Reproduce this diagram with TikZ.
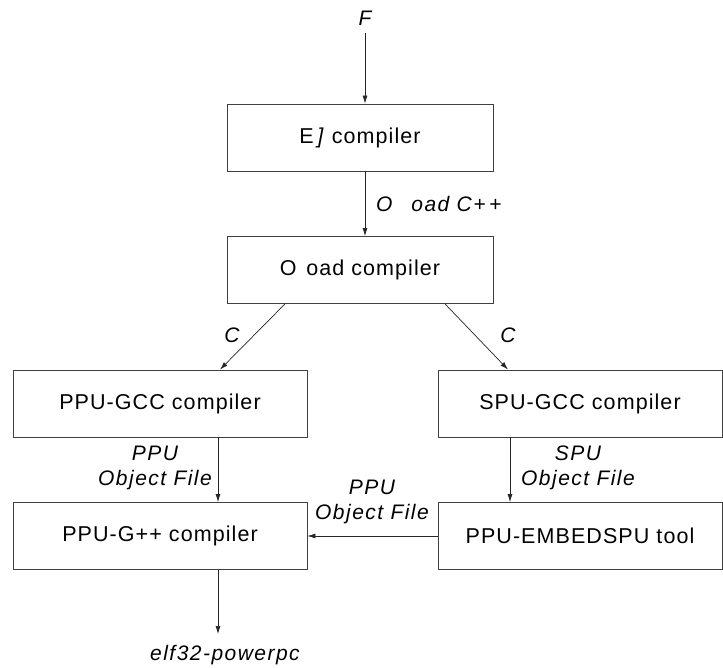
\documentclass[tikz,border=0pt]{standalone}
\usepackage{fontspec}
\setmainfont{Liberation Sans}[LetterSpace=5]
\usetikzlibrary{arrows.meta}

\begin{document}
\begin{tikzpicture}[x=1pt,y=-1pt,
  box/.style={draw=black!75,line width=0.8pt,minimum height=67pt,inner sep=0pt,
    font=\fontsize{21.5}{25}\selectfont},
  lbl/.style={font=\itshape\fontsize{21}{25}\selectfont\addfontfeatures{LetterSpace=7},
    inner sep=0pt,align=center},
  arr/.style={-{Latex[length=8pt,width=5pt]},line width=0.7pt,black!85}]
\useasboundingbox (0,0) rectangle (723,668);
% boxes
\node[box,minimum width=266pt] (ej) at (360,137.5) {E\,\textit{]} compiler};
\node[box,minimum width=266pt] (offl) at (360,270) {O\hspace{0.45em}oad compiler};
\node[box,minimum width=294pt] (ppugcc) at (160,403.5) {PPU-GCC compiler};
\node[box,minimum width=284pt] (spugcc) at (580,403.5) {SPU-GCC compiler};
\node[box,minimum width=294pt] (ppugpp) at (160,536) {PPU-G++ compiler};
\node[box,minimum width=284pt] (embed) at (580,536) {PPU-EMBEDSPU tool};
% in and out
\node[lbl] (F) at (365,18) {F};
\node[lbl] (elf) at (225,655) {elf32-powerpc};
% arrows
\draw[arr,shorten <=8pt] (F.south) -- (F |- ej.north);
\draw[arr] (ej.south -| F) -- (offl.north -| F);
\draw[arr] ([xshift=-75pt]offl.south) -- ([xshift=60pt]ppugcc.north);
\draw[arr] ([xshift=85pt]offl.south) -- ([xshift=-72pt]spugcc.north);
\draw[arr] ([xshift=58pt]ppugcc.south) -- ([xshift=58pt]ppugpp.north);
\draw[arr] ([xshift=-70pt]spugcc.south) -- ([xshift=-70pt]embed.north);
\draw[arr] (embed.west) -- (ppugpp.east);
\draw[arr] ([xshift=58pt]ppugpp.south) -- ([xshift=-7pt,yshift=11pt]elf.north);
% labels
\node[lbl,anchor=west] (offlc) at (376,204) {O\hspace{0.9em}oad C+\,+};
\node[lbl] (cl) at (232,335) {C};
\node[lbl] (cr) at (508,335) {C};
\node[lbl,anchor=east] (ppuobj) at (212,468) {PPU\\Object File};
\node[lbl,anchor=west] (spuobj) at (521,468) {SPU\\Object File};
\node[lbl] (embobj) at (372,502) {PPU\\Object File};
\end{tikzpicture}
\end{document}
